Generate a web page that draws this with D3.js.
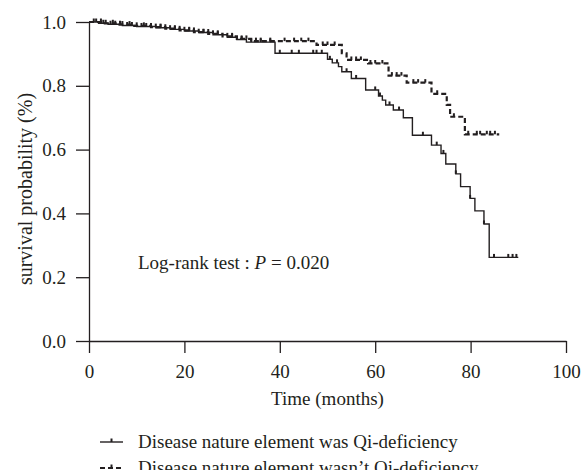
<!DOCTYPE html>
<html><head><meta charset="utf-8">
<script src="https://cdn.jsdelivr.net/npm/d3@7"></script>
<style>body{margin:0;background:#fff}svg{display:block}</style>
</head><body>
<script>
// Qi-deficiency group (solid): step times and survival after each step
const qiTimes = [0,2,4,7,10,14,17,20,23,26,29,31,33,39,50,51,52.3,53,55,58,60.7,61.5,62.2,63.8,65.9,67.8,71.8,73.8,74.8,76.9,77.9,79.9,80.9,82.8,83.9];
const qiSurv  = [1.0,0.996,0.993,0.989,0.986,0.982,0.977,0.972,0.967,0.960,0.952,0.945,0.937,0.902,0.883,0.872,0.860,0.844,0.823,0.787,0.768,0.755,0.740,0.724,0.700,0.645,0.614,0.588,0.555,0.524,0.484,0.447,0.408,0.367,0.262];
const qiEnd = 90;
const qiCensor = [1.5,3,4.5,5.5,6.5,8,9,11,12,13,15,16,18,19,21,22,24,25,27,30,32,34,36,38,40,42.5,44,47,47.7,48.8,50.5,52,54,56,60,61,63,65,70,72.9,74.3,76.9,79.9,82.8,84.9,87.9,88.8,89.6];

// non-Qi-deficiency group (dashed)
const nonTimes = [0,3,6,9,13,16,19,22,25,28,31,34,47.7,53,54,58.5,62.8,66.6,71.8,75,75.7,78.8];
const nonSurv  = [1.0,0.996,0.992,0.988,0.984,0.979,0.974,0.968,0.963,0.955,0.947,0.940,0.928,0.902,0.881,0.870,0.832,0.810,0.775,0.740,0.703,0.648];
const nonEnd = 86;
const nonCensor = [1,2.5,3.5,5,7,8.5,10,11.5,14,15,17,18,20,21,23,24,26,27,29,30,32,33,35,36,38,41,43,44.5,46,49,50,51.5,55,56,57,59,60,61.5,63.5,64.5,65.5,68,69,70.5,73,76.5,79.5,81.3,82,83.4,84.1,85.1];

const xTicks = [0,20,40,60,80,100];
const yTicks = [0.0,0.2,0.4,0.6,0.8,1.0];
const legendLabels = ["Disease nature element was Qi-deficiency","Disease nature element wasn\u2019t Qi-deficiency"];

const W = 588, H = 470;
const ink = "#231f20";
const font = "'Liberation Serif','Times New Roman',serif";
const svg = d3.select("body").append("svg").attr("width", W).attr("height", H);

const x = d3.scaleLinear().domain([0,100]).range([89,566]);
const y = d3.scaleLinear().domain([0,1]).range([341,22]);

// axes
const xAxis = svg.append("g").attr("transform", `translate(0,${y(0)})`)
  .call(d3.axisBottom(x).tickValues(xTicks).tickFormat(d3.format("d")).tickSize(12).tickSizeOuter(0));
const yAxis = svg.append("g").attr("transform", `translate(${x(0)},0)`)
  .call(d3.axisLeft(y).tickValues(yTicks).tickFormat(d3.format(".1f")).tickSize(13).tickSizeOuter(0));
[xAxis,yAxis].forEach(g=>{
  g.select(".domain").attr("stroke", ink).attr("stroke-width",1.3);
  g.selectAll(".tick line").attr("stroke", ink).attr("stroke-width",1.3);
  g.selectAll("text").attr("fill", ink).style("font-family", font).style("font-size","19px");
});
xAxis.selectAll("text").attr("dy","1.15em");
yAxis.selectAll("text").attr("x",-23);

// axis titles
svg.append("text").attr("x", (x(0)+x(100))/2).attr("y", 405).attr("text-anchor","middle")
  .attr("fill",ink).style("font-family",font).style("font-size","19px").text("Time (months)");
svg.append("text").attr("transform",`translate(32,189) rotate(-90)`).attr("text-anchor","middle")
  .attr("fill",ink).style("font-family",font).style("font-size","20px").text("survival probability (%)");

// log-rank annotation
const lr = svg.append("text").attr("x",138).attr("y",269).attr("fill",ink).style("font-family",font).style("font-size","19px");
lr.append("tspan").text("Log-rank test : ");
lr.append("tspan").style("font-style","italic").text("P");
lr.append("tspan").text(" = 0.020");

function stepPoints(times, surv, end){
  const pts = times.map((t,i)=>[t,surv[i]]);
  pts.push([end, surv[surv.length-1]]);
  return pts;
}
function survAt(times, surv, t){
  let s = surv[0];
  for(let i=0;i<times.length;i++){ if(times[i]<=t) s = surv[i]; }
  return s;
}
const line = d3.line().x(d=>x(d[0])).y(d=>y(d[1])).curve(d3.curveStepAfter);

// curves
svg.append("path").datum(stepPoints(qiTimes,qiSurv,qiEnd)).attr("d",line)
  .attr("fill","none").attr("stroke",ink).attr("stroke-width",1.4);
svg.append("path").datum(stepPoints(nonTimes,nonSurv,nonEnd)).attr("d",line)
  .attr("fill","none").attr("stroke",ink).attr("stroke-width",2.2).attr("stroke-dasharray","5,3");

// censor marks
function censor(times, surv, cens){
  svg.append("g").selectAll("line").data(cens).join("line")
    .attr("x1",d=>x(d)).attr("x2",d=>x(d))
    .attr("y1",d=>y(survAt(times,surv,d))).attr("y2",d=>y(survAt(times,surv,d))-3.5)
    .attr("stroke",ink).attr("stroke-width",2);
}
censor(qiTimes,qiSurv,qiCensor);
censor(nonTimes,nonSurv,nonCensor);

// legend
const leg = svg.append("g");
legendLabels.forEach((lab,i)=>{
  const ly = 442 + i*26;
  leg.append("line").attr("x1",100).attr("x2",123).attr("y1",ly).attr("y2",ly)
    .attr("stroke",ink).attr("stroke-width", i===0?1.4:2.2).attr("stroke-dasharray", i===0?null:"5,3");
  leg.append("line").attr("x1",111.5).attr("x2",111.5).attr("y1",ly).attr("y2",ly-3.5).attr("stroke",ink).attr("stroke-width",2);
  leg.append("text").attr("x",138).attr("y",ly+6).attr("fill",ink).style("font-family",font).style("font-size","19px").text(lab);
});
</script>
</body></html>
